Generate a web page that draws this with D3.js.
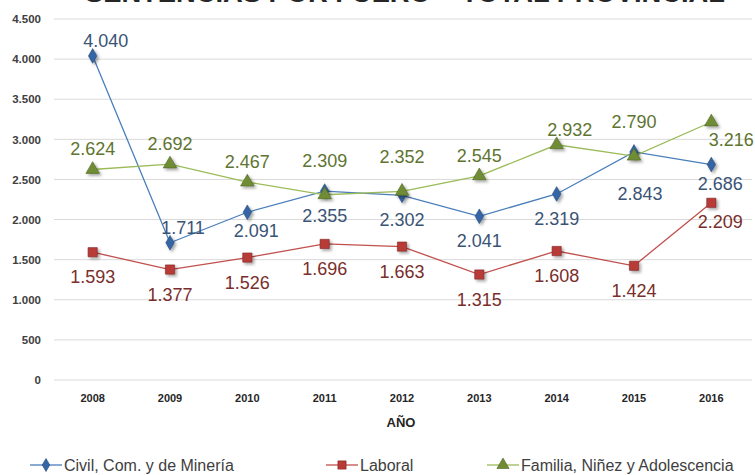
<!DOCTYPE html>
<html>
<head>
<meta charset="utf-8">
<script src="https://cdn.jsdelivr.net/npm/d3@7"></script>
<style>
  body { margin: 0; background: #fff; }
  svg { display: block; font-family: "Liberation Sans", Arial, sans-serif; }
</style>
</head>
<body>
<div class="chart"></div>
<script>
// chart data
const years = ["2008", "2009", "2010", "2011", "2012", "2013", "2014", "2015", "2016"];
const civil = [4040, 1711, 2091, 2355, 2302, 2041, 2319, 2843, 2686];
const laboral = [1593, 1377, 1526, 1696, 1663, 1315, 1608, 1424, 2209];
const familia = [2624, 2692, 2467, 2309, 2352, 2545, 2932, 2790, 3216];
const yTicks = [0, 500, 1000, 1500, 2000, 2500, 3000, 3500, 4000, 4500];
const seriesNames = ["Civil, Com. y de Minería", "Laboral", "Familia, Niñez y Adolescencia"];

// where each value label sits relative to its point
const civilPos = ["tr", "tr", "br", "b", "b", "b", "b", "bb", "br"];
const laboralPos = ["b", "b", "b", "b", "b", "b", "b", "b", "br"];
const familiaPos = ["t", "t", "t", "tt", "tt", "t", "tr", "tt", "r"];

const W = 755, H = 475;
const margin = { top: 19, right: 5, bottom: 95, left: 54 };

const svg = d3.select(".chart").append("svg")
  .attr("width", W).attr("height", H);

const defs = svg.append("defs");
const shadow = defs.append("filter").attr("id", "shadow")
  .attr("x", "-50%").attr("y", "-50%").attr("width", "200%").attr("height", "200%");
shadow.append("feDropShadow")
  .attr("dx", 2).attr("dy", 2).attr("stdDeviation", 1.5)
  .attr("flood-color", "#000").attr("flood-opacity", 0.35);

const x = d3.scaleBand().domain(years).range([margin.left, W - margin.right]);
const y = d3.scaleLinear().domain([0, 4500]).range([H - margin.bottom, margin.top]);
const cx = d => x(d) + x.bandwidth() / 2;

// title (cut off at the top of the picture, as in the original)
svg.append("text")
  .attr("x", 405).attr("y", 1.5)
  .attr("text-anchor", "middle")
  .attr("font-size", 26).attr("font-weight", "bold").attr("fill", "#262626")
  .attr("textLength", 640).attr("lengthAdjust", "spacingAndGlyphs")
  .text("SENTENCIAS POR FUERO – TOTAL PROVINCIAL");

// gridlines
svg.append("g")
  .selectAll("line").data(yTicks).join("line")
  .attr("x1", margin.left).attr("x2", W - 3)
  .attr("y1", d => y(d)).attr("y2", d => y(d))
  .attr("stroke", "#d9d9d9").attr("stroke-width", 1);

// y axis
const yAxis = d3.axisLeft(y).tickValues(yTicks).tickSize(0).tickPadding(13)
  .tickFormat(d => d3.format(",")(d).replace(/,/g, "."));
svg.append("g")
  .attr("transform", `translate(${margin.left},0)`)
  .call(yAxis)
  .call(g => g.select(".domain").remove())
  .selectAll("text")
  .attr("font-size", 11.5).attr("font-weight", "bold").attr("fill", "#404040")
  .attr("font-family", "Liberation Sans, Arial, sans-serif");

// x axis
const xAxis = d3.axisBottom(x).tickSize(0).tickPadding(14);
svg.append("g")
  .attr("transform", `translate(0,${H - margin.bottom})`)
  .call(xAxis)
  .call(g => g.select(".domain").remove())
  .selectAll("text")
  .attr("font-size", 11).attr("font-weight", "bold").attr("fill", "#262626")
  .attr("font-family", "Liberation Sans, Arial, sans-serif");

svg.append("text")
  .attr("x", 401).attr("y", 427)
  .attr("text-anchor", "middle")
  .attr("font-size", 13).attr("font-weight", "bold").attr("fill", "#262626")
  .text("AÑO");

const series = [
  { name: seriesNames[0], values: civil, pos: civilPos, line: "#4a7ebb", fill: "#3465a4", stroke: "#23497a", label: "#3a5475", shape: d3.symbolDiamond, size: 62 },
  { name: seriesNames[1], values: laboral, pos: laboralPos, line: "#c0504d", fill: "#b83b38", stroke: "#7f2624", label: "#7a2e2c", shape: d3.symbolSquare, size: 85 },
  { name: seriesNames[2], values: familia, pos: familiaPos, line: "#9bbb59", fill: "#6f8c35", stroke: "#4d6424", label: "#5e7430", shape: d3.symbolTriangle, size: 80 }
];

const offsets = {
  t: [0, -20], tt: [0, -34], tr: [13, -15],
  b: [0, 25], bb: [6, 42], br: [9, 19], r: [20, 18]
};

const line = d3.line().x((d, i) => cx(years[i])).y(d => y(d));

series.forEach(s => {
  svg.append("path")
    .datum(s.values)
    .attr("fill", "none")
    .attr("stroke", s.line)
    .attr("stroke-width", 1.3)
    .attr("d", line);
});

series.forEach(s => {
  svg.append("g")
    .selectAll("path").data(s.values).join("path")
    .attr("d", d3.symbol().type(s.shape).size(s.size))
    .attr("transform", (d, i) => `translate(${cx(years[i])},${y(d)})`)
    .attr("fill", s.fill)
    .attr("stroke", s.stroke).attr("stroke-width", 0.6)
    .attr("filter", "url(#shadow)");
});

series.forEach(s => {
  svg.append("g")
    .selectAll("text").data(s.values).join("text")
    .attr("x", (d, i) => cx(years[i]) + offsets[s.pos[i]][0])
    .attr("y", (d, i) => y(d) + offsets[s.pos[i]][1])
    .attr("text-anchor", "middle")
    .attr("dominant-baseline", "central")
    .attr("font-size", 18)
    .attr("fill", s.label)
    .text(d => d3.format(",")(d).replace(/,/g, "."));
});

// legend
const legendX = [30, 326, 487];
const legend = svg.append("g").selectAll("g").data(series).join("g")
  .attr("transform", (d, i) => `translate(${legendX[i]},465)`);
legend.append("line")
  .attr("x1", 0).attr("x2", 32)
  .attr("stroke", d => d.line).attr("stroke-width", 1.3);
legend.append("path")
  .attr("d", d => d3.symbol().type(d.shape).size(d.size * 0.8)())
  .attr("transform", "translate(16,0)")
  .attr("fill", d => d.fill)
  .attr("stroke", d => d.stroke).attr("stroke-width", 0.6);
legend.append("text")
  .attr("x", 34).attr("y", 0)
  .attr("dominant-baseline", "central")
  .attr("font-size", 16).attr("fill", "#404040")
  .text(d => d.name);
</script>
</body>
</html>
